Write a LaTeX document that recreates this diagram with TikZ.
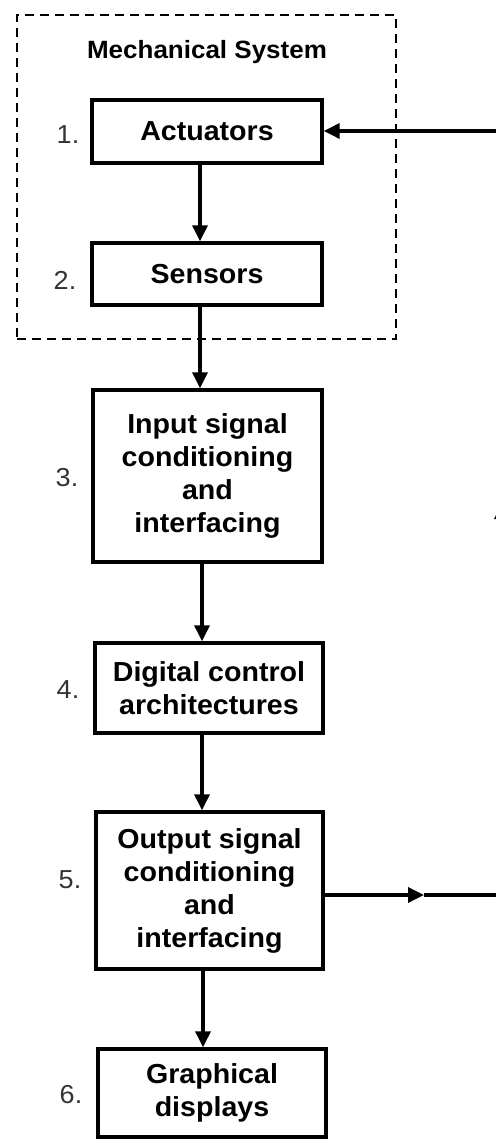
\documentclass[tikz,border=0pt]{standalone}
\usepackage{fontspec}
\setmainfont[FakeStretch=1.04]{Liberation Sans}
\usetikzlibrary{arrows.meta}
\begin{document}
\begin{tikzpicture}[x=1pt,y=-1pt,
  blk/.style={draw=black, line width=3.4pt, fill=white, align=center, inner sep=0pt,
    font=\fontsize{27.5}{33}\selectfont\bfseries, text=black},
  num/.style={font=\fontsize{26}{30}\selectfont, text=black!80, inner sep=0pt},
  arr/.style={line width=3.4pt, -{Triangle[length=16pt,width=15pt]}},
  ln/.style={line width=3.4pt},
  mechbox/.style={draw=black, line width=2.8pt, dash pattern=on 9pt off 6pt, inner sep=0pt}]
\useasboundingbox (0,0) rectangle (495,1139);
\fill[white] (0,0) rectangle (495,1139);
% dashed mechanical system box
\node[mechbox, minimum width=379pt, minimum height=324pt] (mech) at (206.5,177) {};
\node[font=\fontsize{25}{30}\selectfont\bfseries, inner sep=0pt] (title) at (207,52) {Mechanical System};
% blocks
\node[blk, minimum width=230pt, minimum height=63pt] (act) at (207,131.5) {Actuators};
\node[blk, minimum width=230pt, minimum height=62pt] (sen) at (207,274) {Sensors};
\node[blk, minimum width=229pt, minimum height=172pt] (inp) at (207.5,476) {Input signal\\conditioning\\and\\interfacing};
\node[blk, minimum width=228pt, minimum height=90pt] (dig) at (209,688) {Digital control\\architectures};
\node[blk, minimum width=227pt, minimum height=157pt] (outp) at (209.5,890.5) {Output signal\\conditioning\\and\\interfacing};
\node[blk, minimum width=228pt, minimum height=88pt] (gra) at (212,1093) {Graphical\\displays};
% numbers
\node[num] (n1) at (68,135) {1.};
\node[num] (n2) at (65,280) {2.};
\node[num] (n3) at (67,478) {3.};
\node[num] (n4) at (68,690) {4.};
\node[num] (n5) at (70,880) {5.};
\node[num] (n6) at (71,1095) {6.};
% vertical connectors
\coordinate (a1) at (200,0);
\coordinate (a2) at (202,0);
\coordinate (a3) at (203,0);
\draw[arr] (act.south -| a1) -- (sen.north -| a1);
\draw[arr] (sen.south -| a1) -- (inp.north -| a1);
\draw[arr] (inp.south -| a2) -- (dig.north -| a2);
\draw[arr] (dig.south -| a2) -- (outp.north -| a2);
\draw[arr] (outp.south -| a3) -- (gra.north -| a3);
% feedback loop
\coordinate (c1) at (502,895);
\coordinate (c2) at (502,131);
\coordinate (m1) at (424,895);
\coordinate (m2) at (502,503);
\draw[arr] (outp.east |- c1) -- (m1);
\draw[ln] (m1) -- (c1);
\draw[arr] (c1) -- (m2);
\draw[ln] (m2) -- (c2);
\draw[arr] (c2) -- (act.east |- c2);
\end{tikzpicture}
\end{document}
